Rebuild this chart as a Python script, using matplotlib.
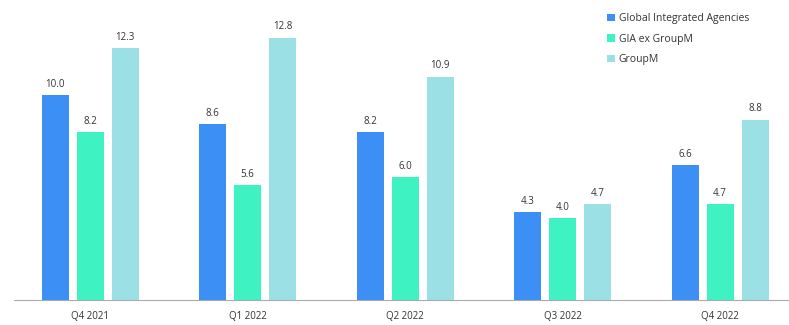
import matplotlib
matplotlib.use("Agg")
import matplotlib.pyplot as plt
import numpy as np

categories = ["Q4 2021", "Q1 2022", "Q2 2022", "Q3 2022", "Q4 2022"]
series_names = ["Global Integrated Agencies", "GIA ex GroupM", "GroupM"]
gia = [10.0, 8.6, 8.2, 4.3, 6.6]
gia_ex = [8.2, 5.6, 6.0, 4.0, 4.7]
groupm = [12.3, 12.8, 10.9, 4.7, 8.8]
colors = ["#3b8ff5", "#3ff2c2", "#9be0e4"]

plt.rcParams['font.family'] = ['Open Sans', 'DejaVu Sans']
fig = plt.figure(figsize=(7.89, 3.25), dpi=100)
ax = fig.add_axes([14/789, 25/325, 775/789, 300/325])

x = np.arange(len(categories))
w = 0.171
off = 0.222
for i, (vals, c, name) in enumerate(zip([gia, gia_ex, groupm], colors, series_names)):
    bars = ax.bar(x + (i - 1) * off, vals, width=w, color=c, label=name)
    for b, v in zip(bars, vals):
        ax.text(b.get_x() + b.get_width() / 2, v + 0.25, f"{v:.1f}", ha="center",
                va="bottom", fontsize=7, color="#333333")

ax.set_xlim(-0.483, 4.437)
ax.set_ylim(0, 300 / 20.5)
ax.set_xticks(x)
ax.set_xticklabels(categories, fontsize=7, color="#333333")
ax.tick_params(axis="x", length=0, pad=8)
ax.set_yticks([])
for s in ["top", "right", "left"]:
    ax.spines[s].set_visible(False)
ax.spines["bottom"].set_color("#aaaaaa")
ax.spines["bottom"].set_linewidth(0.8)

leg = ax.legend(loc="upper left", bbox_to_anchor=(598/789, 1.0 - 4/325), frameon=False,
                fontsize=7.5, handlelength=0.7, handleheight=0.7, handletextpad=0.4,
                labelspacing=0.9, bbox_transform=fig.transFigure)
for t in leg.get_texts():
    t.set_color("#333333")

fig.savefig("out.png", dpi=100)
